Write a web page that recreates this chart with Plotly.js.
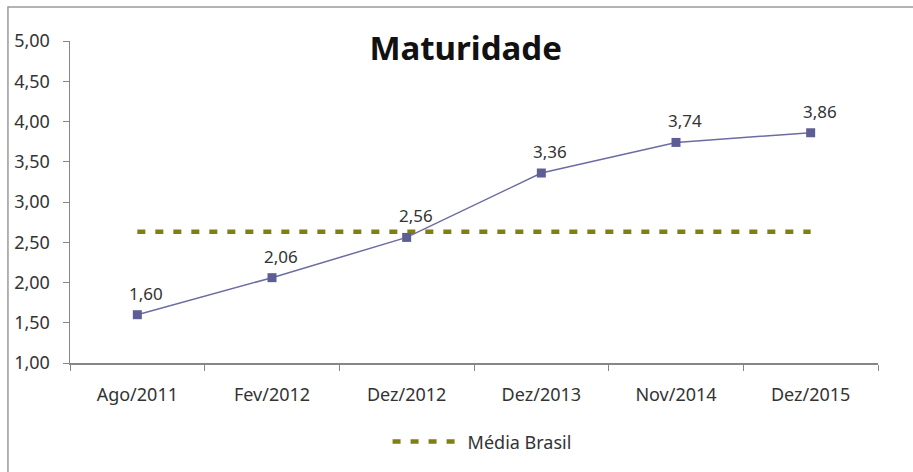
<!DOCTYPE html>
<html>
<head>
<meta charset="utf-8">
<script src="https://cdn.plot.ly/plotly-3.0.1.min.js"></script>
<style>html,body{margin:0;padding:0;background:#fff;}#chart{width:913px;height:472px;}</style>
</head>
<body>
<div id="chart"></div>
<script>
const categories = ["Ago/2011", "Fev/2012", "Dez/2012", "Dez/2013", "Nov/2014", "Dez/2015"];
const maturidade = [1.60, 2.06, 2.56, 3.36, 3.74, 3.86];
const mediaBrasil = [2.63, 2.63, 2.63, 2.63, 2.63, 2.63];
const yTicks = [1.0, 1.5, 2.0, 2.5, 3.0, 3.5, 4.0, 4.5, 5.0];
const titleText = "Maturidade";
const legendName = "Média Brasil";

const FONT = "Noto Sans, Open Sans, sans-serif";

const traces = [
  {
    x: categories, y: mediaBrasil, type: "scatter", mode: "lines",
    name: legendName,
    line: {color: "#7f7f12", width: 4.5, dash: "8px,10px"},
    hoverinfo: "skip"
  },
  {
    x: categories, y: maturidade, type: "scatter", mode: "lines+markers",
    showlegend: false,
    line: {color: "#6c6ca3", width: 1.5},
    marker: {symbol: "square", size: 9, color: "#5e5e96"},
    hoverinfo: "skip"
  }
];

const annotations = categories.map((c, i) => ({
  x: c, y: maturidade[i], xref: "x", yref: "y",
  text: maturidade[i].toFixed(2).replace(".", ","),
  showarrow: false, xanchor: "center", yanchor: "bottom",
  xshift: 9, yshift: 8,
  font: {family: FONT, size: 17, color: "#333333"}
}));

const layout = {
  width: 913, height: 472,
  margin: {l: 70, r: 35, t: 41, b: 109},
  paper_bgcolor: "#ffffff", plot_bgcolor: "#ffffff",
  font: {family: FONT, size: 17, color: "#333333"},
  separators: ",.",
  title: {
    text: "<b>" + titleText + "</b>",
    font: {family: FONT, size: 33, color: "#111111"},
    x: 0.51, xanchor: "center", y: 0.898, yanchor: "middle", yref: "container"
  },
  xaxis: {
    type: "category", range: [-0.5, 5.5],
    showgrid: false, zeroline: false,
    showline: true, linecolor: "#868686", linewidth: 1.5,
    ticks: "outside", tickson: "boundaries", ticklen: 6, tickcolor: "#868686",
    ticklabelstandoff: 15,
    tickfont: {family: FONT, size: 18, color: "#333333"}
  },
  yaxis: {
    range: [1, 5], tickvals: yTicks, tickformat: ".2f",
    showgrid: false, zeroline: false,
    showline: true, linecolor: "#868686", linewidth: 1.5,
    ticks: "outside", ticklen: 6, tickcolor: "#868686",
    ticklabelstandoff: 9,
    tickfont: {family: FONT, size: 18, color: "#333333"}
  },
  annotations: annotations,
  showlegend: true,
  legend: {
    orientation: "h", x: 0.51, xanchor: "center", y: -0.245, yanchor: "middle",
    font: {family: FONT, size: 18, color: "#333333"},
    itemwidth: 70, bgcolor: "rgba(0,0,0,0)"
  },
  shapes: [
    {type: "rect", xref: "paper", yref: "paper",
     x0: -0.0768, x1: 1.2, y0: -0.5, y1: 1.1056,
     line: {color: "#9a9a9a", width: 1.5}, fillcolor: "rgba(0,0,0,0)", layer: "below"}
  ]
};

Plotly.newPlot("chart", traces, layout, {displayModeBar: false, staticPlot: true});
</script>
</body>
</html>
